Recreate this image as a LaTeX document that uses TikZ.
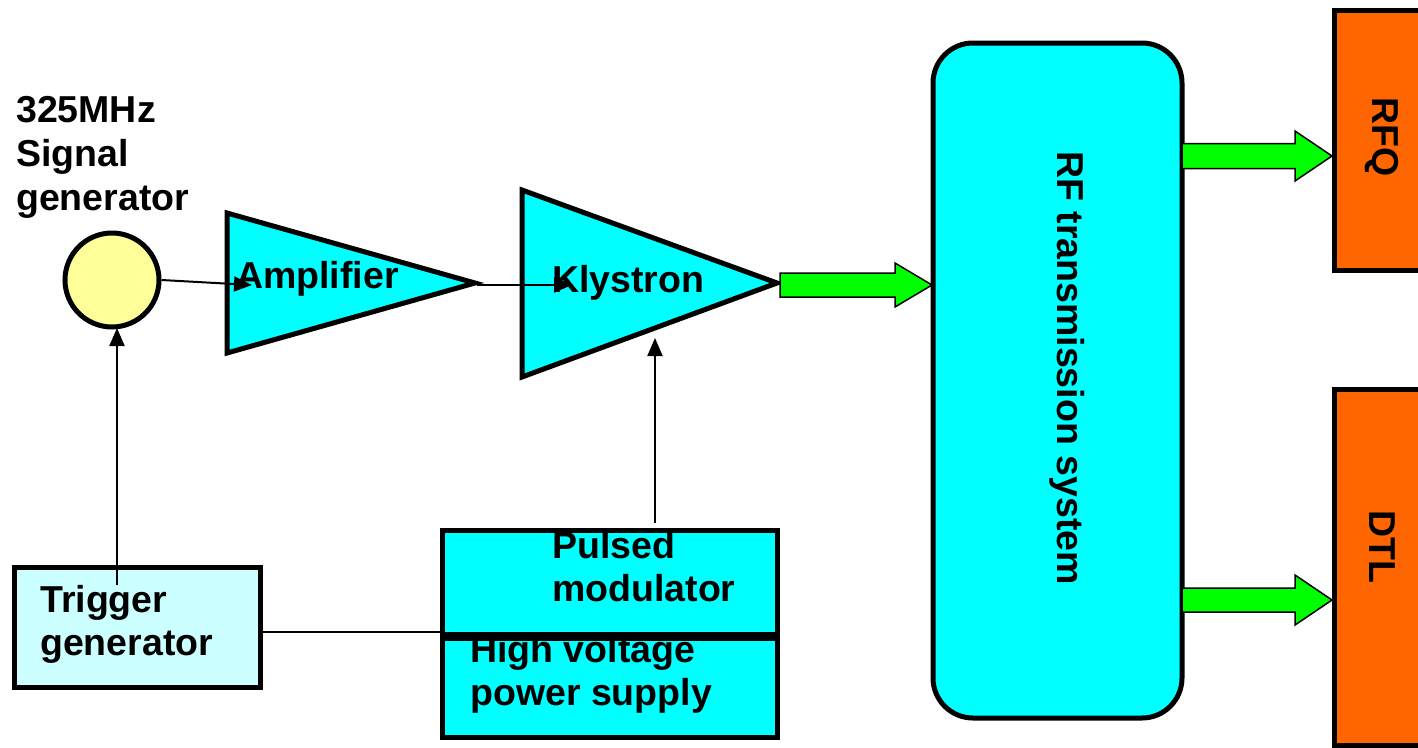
\documentclass[tikz,border=0pt]{standalone}
\usepackage{fontspec}
\setmainfont{Liberation Sans}
\usetikzlibrary{arrows.meta,calc}
\definecolor{cyanf}{HTML}{00FFFF}
\definecolor{yellowf}{HTML}{FFFF99}
\definecolor{lcyan}{HTML}{CCFFFF}
\definecolor{orangef}{HTML}{FF6600}
\definecolor{greenf}{HTML}{00FF00}
\newcommand\fatarrow[4]{% start, end, shaft half, head half
  \draw[fatarrow] ($(#1)+(0,-#3)$) -- ($(#2)+(-37,-#3)$) -- ($(#2)+(-37,-#4)$) -- (#2)
    -- ($(#2)+(-37,#4)$) -- ($(#2)+(-37,#3)$) -- ($(#1)+(0,#3)$) -- cycle;}
\begin{document}
\begin{tikzpicture}[x=1pt,y=-1pt,
  every node/.style={font=\fontsize{37.5}{44}\selectfont\bfseries, inner sep=0pt},
  tri/.style={draw=black, line width=5pt, fill=cyanf, line join=miter},
  boxc/.style={draw=black, line width=5pt, fill=cyanf},
  thinarrow/.style={draw=black, line width=2pt, -{Triangle[length=18pt,width=15pt]}},
  thinline/.style={draw=black, line width=2pt},
  fatarrow/.style={draw=black, line width=1.5pt, fill=greenf, line join=miter},
  target/.style={draw=black, line width=5pt, fill=orangef},
  lbl/.style={align=left, anchor=north west}]
\useasboundingbox (0,0) rectangle (1418,747);
\clip (0,0) rectangle (1418,747);

% signal generator
\node[circle, draw=black, line width=5pt, fill=yellowf, minimum size=94pt] (sig) at (112,280) {};
\node[lbl] (siglbl) at (16,96) {325MHz\\Signal\\generator};

% amplifier
\draw[tri] (227,213) -- (475,283) -- (227,353) -- cycle;
\coordinate (amptip) at (477,285);
\coordinate (ampin) at (252,285);
\node[anchor=base west] (amplbl) at (236,288) {Amplifier};

% klystron
\draw[tri] (522,190) -- (777,283) -- (522,377) -- cycle;
\coordinate (klyin) at (572,285);
\coordinate (klyout) at (780,285);
\coordinate (klybot) at (655,338);
\node[anchor=base west] (klylbl) at (552,292) {Klystron};

% RF transmission system
\node[draw=black, line width=5pt, fill=cyanf, rounded corners=40pt,
      minimum width=249pt, minimum height=675pt] (rf) at (1057.5,380.5) {};
\node[rotate=-90] (rflbl) at (1067,368) {RF transmission system};

% RFQ and DTL
\node[target, minimum width=120pt, minimum height=260pt, anchor=north west] (rfq) at (1332,8) {};
\node[rotate=-90] (rfqlbl) at (1382,137) {RFQ};
\node[target, minimum width=120pt, minimum height=356pt, anchor=north west] (dtl) at (1332,387) {};
\node[rotate=-90] (dtllbl) at (1382,547) {DTL};

% trigger generator
\node[draw=black, line width=5pt, fill=lcyan, minimum width=246pt, minimum height=120pt, anchor=north west] (trig) at (12,565) {};
\node[lbl] (triglbl) at (40,585) {Trigger\\[-1pt]generator};

% modulator and HV supply
\node[boxc, minimum width=335pt, minimum height=104pt, anchor=north west] (pm) at (440,528) {};
\node[boxc, minimum width=335pt, minimum height=103pt, anchor=north west] (hv) at (440,632) {};
\draw[line width=7pt] (pm.south west) -- (pm.south east);
\node[lbl] (pmlbl) at (552,531) {Pulsed\\[-1pt]modulator};
\node[lbl] (hvlbl) at (470,635) {High voltage\\[-1pt]power supply};

% connectors
\draw[thinarrow] (sig.east) -- (ampin);
\draw[thinarrow] (amptip) -- (klyin);
\coordinate (trigup) at (117,585);
\coordinate (sigbot) at (117,328);
\draw[thinarrow] (trigup) -- (sigbot);
\coordinate (pmtop) at (655,523);
\draw[thinarrow] (pmtop) -- (klybot);
\draw[thinline] (trig.east |- 0,632) -- (hv.north west);

% green power arrows
\coordinate (rfin) at (932,285);
\fatarrow{klyout}{rfin}{12}{22}
\coordinate (rfqo) at (1182,156);
\coordinate (rfqi) at (1332,156);
\fatarrow{rfqo}{rfqi}{12.5}{25}
\coordinate (dtlo) at (1182,600);
\coordinate (dtli) at (1332,600);
\fatarrow{dtlo}{dtli}{12}{25}
\end{tikzpicture}
\end{document}
